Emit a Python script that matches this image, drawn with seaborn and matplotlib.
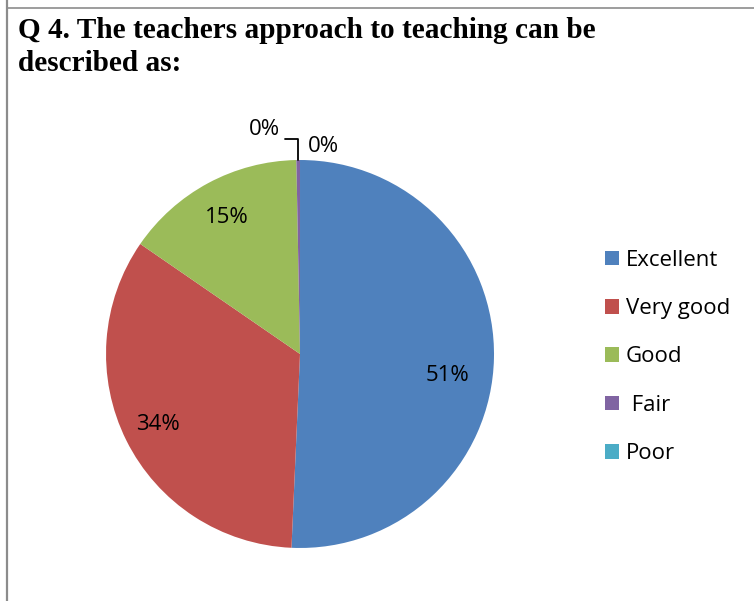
import numpy as np
import matplotlib
matplotlib.use("Agg")
import matplotlib.pyplot as plt
from matplotlib.lines import Line2D
import seaborn as sns

# survey answers (percent of respondents)
categories = ["Excellent", "Very good", "Good", " Fair", "Poor"]
shares = [50.7, 33.9, 15.1, 0.3, 0.0]
pct_labels = ["51%", "34%", "15%", "0%", "0%"]
colors = ["#4F81BD", "#C0504D", "#9BBB59", "#8064A2", "#4BACC6"]

sns.set_theme(style="white")
plt.rcParams["font.family"] = ["Open Sans", "DejaVu Sans"]
plt.rcParams["text.color"] = "black"

fig = plt.figure(figsize=(7.54, 6.01), dpi=100)
ax = fig.add_axes([0.0763, 0.0075, 0.6432, 0.807])

wedges, _ = ax.pie(shares, colors=sns.color_palette(colors), startangle=90,
                   counterclock=False, wedgeprops=dict(linewidth=0))
ax.set_xlim(-1.25, 1.25)
ax.set_ylim(-1.25, 1.25)
ax.set_aspect("equal")

# labels inside the big slices
dist = [0.77, 0.82, 0.80]
drop = [-7, 0, 0]
for w, lab, d, dd in zip(wedges[:3], pct_labels[:3], dist, drop):
    ang = np.deg2rad((w.theta1 + w.theta2) / 2 + dd)
    ax.text(d * np.cos(ang), d * np.sin(ang), lab, ha="center", va="center",
            fontsize=16)

# the two zero slices sit at the top with a leader line
fair = wedges[3]
ang = np.deg2rad((fair.theta1 + fair.theta2) / 2)
x0, y0 = np.cos(ang), np.sin(ang)
ax.plot([x0, x0, x0 - 0.07], [y0, 1.108, 1.108], color="black", lw=1.3)
ax.text(x0 - 0.095, 1.155, pct_labels[3], ha="right", va="center", fontsize=16)
ax.text(0.04, 1.07, pct_labels[4], ha="left", va="center", fontsize=16)

ax.legend(wedges, categories, loc="center left", frameon=False,
          bbox_to_anchor=(0.802, 1 - 357 / 601), bbox_transform=fig.transFigure,
          fontsize=16, handlelength=0.65, handleheight=0.65, handletextpad=0.3,
          labelspacing=1.23, borderaxespad=0, borderpad=0)

fig.text(18 / 754, 1 - 17 / 601,
         "Q 4. The teachers approach to teaching can be\ndescribed as:",
         ha="left", va="top", fontsize=21.1, fontweight="bold",
         family="Liberation Serif", linespacing=1.27)

# frame lines from the original document
fig.add_artist(Line2D([6.5 / 754, 6.5 / 754], [0, 1], transform=fig.transFigure,
                      color="#8c8c8c", lw=1.6))
fig.add_artist(Line2D([6.5 / 754, 1], [1 - 8 / 601, 1 - 8 / 601],
                      transform=fig.transFigure, color="#8c8c8c", lw=1.2))

fig.savefig("out.png", dpi=100)
